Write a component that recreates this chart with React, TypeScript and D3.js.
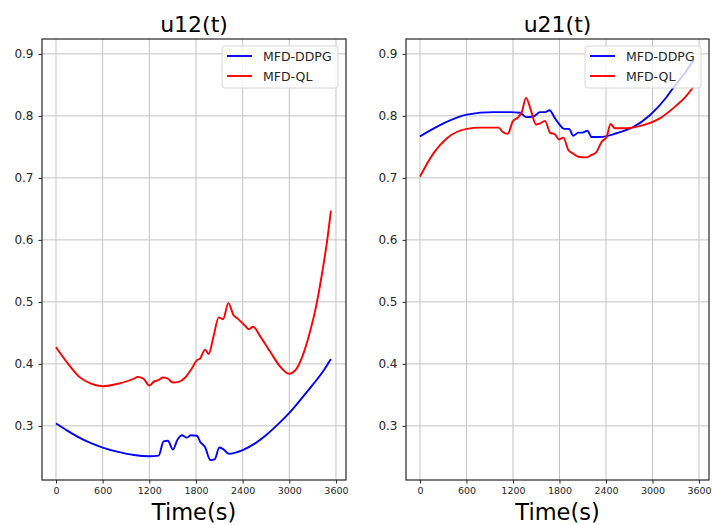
import * as d3 from 'd3';
import React, { useEffect, useRef } from 'react';

// tick labels / names
const xTicks = [0, 600, 1200, 1800, 2400, 3000, 3600];
const yTicks = [0.3, 0.4, 0.5, 0.6, 0.7, 0.8, 0.9];
const seriesNames = ['MFD-DDPG', 'MFD-QL'];
const panelTitles = ['u12(t)', 'u21(t)'];
const xLabel = 'Time(s)';

// u12(t)
const u12DdpgTime = [0, 150, 300, 450, 600, 800, 1000, 1200, 1320, 1383, 1439, 1503, 1563, 1619, 1684, 1735, 1812, 1855, 1916, 1984, 2040, 2100, 2156, 2220, 2400, 2550, 2700, 2850, 3000, 3150, 3300, 3450, 3535];
const u12DdpgValue = [0.304, 0.292, 0.281, 0.272, 0.265, 0.258, 0.253, 0.251, 0.252, 0.275, 0.276, 0.262, 0.278, 0.285, 0.281, 0.285, 0.284, 0.274, 0.266, 0.245, 0.246, 0.265, 0.262, 0.255, 0.261, 0.271, 0.285, 0.302, 0.321, 0.343, 0.366, 0.391, 0.408];

const u12QlTime = [0, 150, 300, 450, 600, 800, 1000, 1050, 1125, 1200, 1254, 1318, 1374, 1439, 1503, 1576, 1662, 1748, 1812, 1855, 1916, 1963, 2027, 2092, 2148, 2216, 2285, 2336, 2435, 2478, 2534, 2628, 2757, 2886, 2994, 3079, 3165, 3273, 3343, 3420, 3488, 3535];
const u12QlValue = [0.427, 0.401, 0.379, 0.368, 0.364, 0.368, 0.376, 0.379, 0.376, 0.365, 0.371, 0.374, 0.378, 0.376, 0.370, 0.371, 0.378, 0.393, 0.406, 0.409, 0.423, 0.416, 0.445, 0.475, 0.472, 0.498, 0.478, 0.473, 0.461, 0.456, 0.460, 0.444, 0.419, 0.395, 0.384, 0.390, 0.411, 0.455, 0.492, 0.545, 0.600, 0.647];

// u21(t)
const u21DdpgTime = [0, 305, 605, 948, 1163, 1292, 1369, 1464, 1549, 1614, 1670, 1743, 1807, 1858, 1923, 1979, 2043, 2099, 2159, 2215, 2322, 2537, 2751, 2966, 3180, 3266, 3400, 3530];
const u21DdpgValue = [0.767, 0.788, 0.802, 0.806, 0.806, 0.805, 0.798, 0.799, 0.806, 0.806, 0.809, 0.796, 0.785, 0.779, 0.779, 0.768, 0.773, 0.773, 0.776, 0.766, 0.766, 0.772, 0.782, 0.801, 0.830, 0.845, 0.866, 0.890];

const u21QlTime = [0, 176, 348, 605, 777, 1013, 1069, 1133, 1197, 1270, 1313, 1369, 1429, 1498, 1549, 1614, 1678, 1743, 1794, 1850, 1914, 1979, 2043, 2150, 2215, 2279, 2343, 2408, 2459, 2515, 2665, 2880, 3094, 3309, 3420, 3530];
const u21QlValue = [0.702, 0.740, 0.764, 0.779, 0.781, 0.781, 0.774, 0.771, 0.791, 0.798, 0.806, 0.829, 0.810, 0.786, 0.788, 0.792, 0.773, 0.770, 0.762, 0.765, 0.745, 0.739, 0.734, 0.733, 0.737, 0.742, 0.758, 0.766, 0.787, 0.780, 0.780, 0.785, 0.796, 0.817, 0.830, 0.847];

const colors = ['#0000ff', '#ff0000'];
const font = 'DejaVu Sans, sans-serif';

export default function App() {
	const ref = useRef<SVGSVGElement>(null);

	useEffect(() => {
		const svg = d3.select(ref.current);
		svg.selectAll('*').remove();

		const top = 39, bottom = 480;
		const y = d3.scaleLinear().domain([0.2127, 0.924]).range([bottom, top]);

		const panels = [
			{ title: panelTitles[0], left: 42, right: 346, series: [[u12DdpgTime, u12DdpgValue], [u12QlTime, u12QlValue]] },
			{ title: panelTitles[1], left: 406, right: 709, series: [[u21DdpgTime, u21DdpgValue], [u21QlTime, u21QlValue]] },
		];

		panels.forEach((p) => {
			const x = d3.scaleLinear().domain([-180, 3729]).range([p.left, p.right]);
			const g = svg.append('g');

			// grid
			g.append('g').selectAll('line').data(xTicks).join('line')
				.attr('x1', d => x(d)).attr('x2', d => x(d))
				.attr('y1', top).attr('y2', bottom)
				.attr('stroke', '#c4c4c4').attr('stroke-width', 1);
			g.append('g').selectAll('line').data(yTicks).join('line')
				.attr('x1', p.left).attr('x2', p.right)
				.attr('y1', d => y(d)).attr('y2', d => y(d))
				.attr('stroke', '#c4c4c4').attr('stroke-width', 1);

			// series
			const line = d3.line<[number, number]>()
				.curve(d3.curveMonotoneX)
				.x(d => x(d[0]))
				.y(d => y(d[1]));
			p.series.forEach(([ts, vs], i) => {
				const pts = ts.map((t, k) => [t, vs[k]] as [number, number]);
				g.append('path')
					.attr('d', line(pts))
					.attr('fill', 'none')
					.attr('stroke', colors[i])
					.attr('stroke-width', 1.9)
					.attr('stroke-linejoin', 'round');
			});

			// spines
			g.append('rect')
				.attr('x', p.left).attr('y', top)
				.attr('width', p.right - p.left).attr('height', bottom - top)
				.attr('fill', 'none').attr('stroke', '#262626').attr('stroke-width', 1.2);

			// axes
			const xAxis = g.append('g')
				.attr('transform', `translate(0,${bottom})`)
				.call(d3.axisBottom(x).tickValues(xTicks).tickSize(3.5).tickPadding(4).tickFormat(d3.format('d')));
			xAxis.select('.domain').remove();
			xAxis.selectAll('line').attr('stroke', '#262626');
			xAxis.selectAll('text').attr('font-size', 9.5).attr('font-family', font).attr('fill', '#262626');

			const yAxis = g.append('g')
				.attr('transform', `translate(${p.left},0)`)
				.call(d3.axisLeft(y).tickValues(yTicks).tickSize(3.5).tickPadding(5).tickFormat(d3.format('.1f')));
			yAxis.select('.domain').remove();
			yAxis.selectAll('line').attr('stroke', '#262626');
			yAxis.selectAll('text').attr('font-size', 12).attr('font-family', font).attr('fill', '#262626');

			// title and x label
			const cx = (p.left + p.right) / 2;
			g.append('text').attr('x', cx).attr('y', 31.5)
				.attr('text-anchor', 'middle').attr('font-size', 22).attr('font-family', font)
				.text(p.title);
			g.append('text').attr('x', cx).attr('y', 520)
				.attr('text-anchor', 'middle').attr('font-size', 22.5).attr('font-family', font)
				.text(xLabel);

			// legend
			const lx = p.right - 124, ly = top + 7;
			const leg = g.append('g').attr('transform', `translate(${lx},${ly})`);
			leg.append('rect')
				.attr('width', 116).attr('height', 42).attr('rx', 3)
				.attr('fill', 'white').attr('fill-opacity', 0.8)
				.attr('stroke', '#d6d6d6').attr('stroke-width', 1);
			seriesNames.forEach((name, i) => {
				const yy = 10 + i * 20;
				leg.append('line')
					.attr('x1', 5).attr('x2', 30).attr('y1', yy).attr('y2', yy)
					.attr('stroke', colors[i]).attr('stroke-width', 1.9);
				leg.append('text')
					.attr('x', 41).attr('y', yy + 4.5)
					.attr('font-size', 12.5).attr('font-family', font).attr('fill', '#262626')
					.text(name);
			});
		});
	}, []);

	return (
		<svg ref={ref} width={712} height={525}
			style={{ position: 'absolute', left: 0, top: 0, background: 'white' }} />
	);
}
